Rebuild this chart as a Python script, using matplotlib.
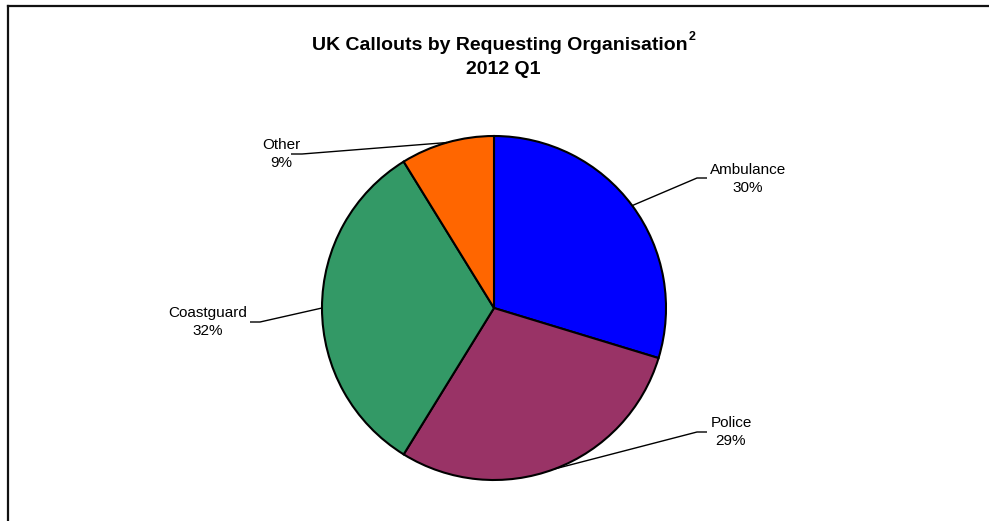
import numpy as np
import matplotlib
matplotlib.use("Agg")
import matplotlib.pyplot as plt
from matplotlib.lines import Line2D

# dados (percentuais estimados a partir dos ângulos das fatias)
categorias = ["Ambulance", "Police", "Coastguard", "Other"]
valores = [29.7, 29.1, 32.4, 8.8]
cores = ["#0000FF", "#993366", "#339966", "#FF6600"]

plt.rcParams['font.family'] = ['Liberation Sans', 'DejaVu Sans']

W, H = 989, 521
fig = plt.figure(figsize=(W / 100, H / 100), dpi=100)
ax = fig.add_axes([0, 0, 1, 1])
ax.set_xlim(0, W)
ax.set_ylim(0, H)
ax.set_aspect('equal')
ax.axis('off')

# y em pixels (de cima para baixo) -> coordenada do eixo
def Y(y):
    return H - y

cx, cy, r = 494, 308, 172
wedges, _ = ax.pie(valores, colors=cores, startangle=90, counterclock=False,
                   center=(cx, Y(cy)), radius=r,
                   wedgeprops=dict(edgecolor='black', linewidth=1.5))
ax.set_xlim(0, W)
ax.set_ylim(0, H)

# posição dos rótulos (centro do texto) e cotovelo da linha guia
rotulos = {
    "Ambulance": dict(txt=(748, 179), elbow=(697, 178), end=(707, 178)),
    "Police": dict(txt=(731, 432), elbow=(697, 432), end=(707, 432)),
    "Coastguard": dict(txt=(208, 322), elbow=(260, 322), end=(250, 322)),
    "Other": dict(txt=(281, 154), elbow=(302, 154), end=(291, 154)),
}

for w, nome, v in zip(wedges, categorias, valores):
    ang = np.deg2rad((w.theta1 + w.theta2) / 2)
    px = cx + r * np.cos(ang)
    py = Y(cy) + r * np.sin(ang)
    p = rotulos[nome]
    ax.plot([px, p['elbow'][0], p['end'][0]],
            [py, Y(p['elbow'][1]), Y(p['end'][1])],
            color='black', linewidth=1, solid_capstyle='butt')
    ax.text(p['txt'][0], Y(p['txt'][1]), f"{nome}\n{v:.0f}%", ha='center', va='center',
            fontsize=11, linespacing=1.45)

# título
ax.text(500, Y(45), "UK Callouts by Requesting Organisation", ha='center', va='center',
        fontsize=14, fontweight='bold')
ax.text(689, Y(37), "2", ha='left', va='center', fontsize=9, fontweight='bold')
ax.text(503, Y(69), "2012 Q1", ha='center', va='center', fontsize=14, fontweight='bold')

# moldura (só topo e esquerda visíveis)
fig.add_artist(Line2D([7.5 / W, 1], [1 - 5.5 / H, 1 - 5.5 / H], color='#111111', linewidth=1.6,
                      transform=fig.transFigure))
fig.add_artist(Line2D([7.5 / W, 7.5 / W], [0, 1 - 5.5 / H], color='#111111', linewidth=1.6,
                      transform=fig.transFigure))

fig.savefig("out.png", dpi=100)
